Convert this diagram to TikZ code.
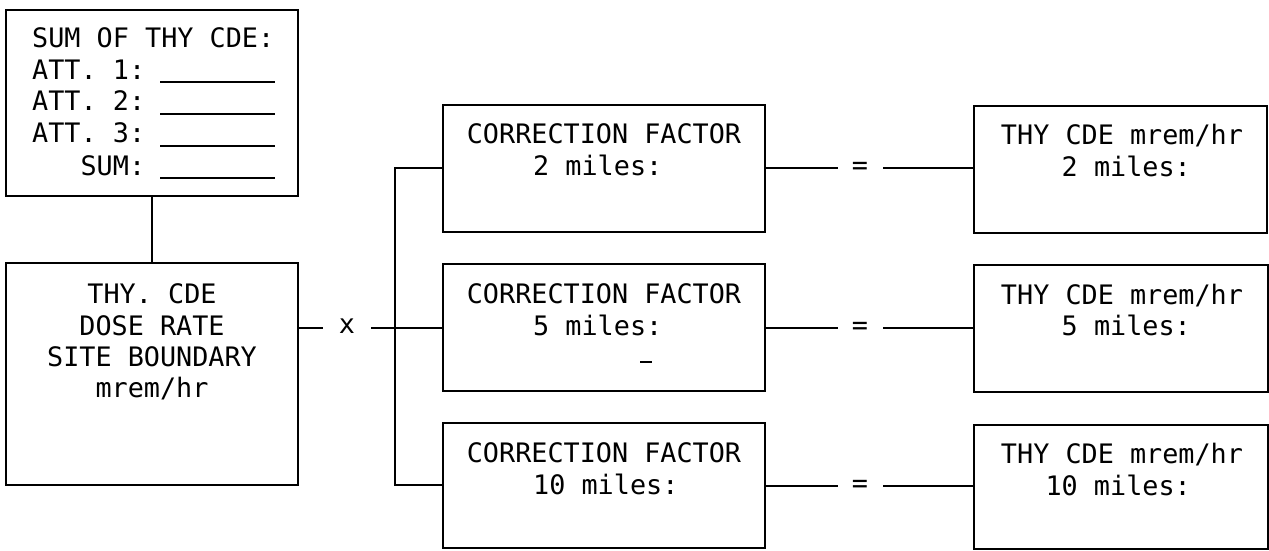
\documentclass[tikz,border=0pt]{standalone}
\usepackage{fontspec}
\setmonofont{DejaVu Sans Mono}
\begin{document}
\begin{tikzpicture}[x=1pt,y=-1pt,
  box/.style={draw, line width=2.6pt, rectangle, inner sep=0pt, outer sep=0pt},
  conn/.style={line width=2.4pt},
  blank/.style={line width=1.8pt},
  txt/.style={inner sep=0pt, font=\fontsize{26.8}{32}\selectfont\ttfamily},
]
\useasboundingbox (0,0) rectangle (1269,550);
% boxes
\node[box, minimum width=292pt, minimum height=186pt] (A) at (152,103) {};
\node[box, minimum width=292pt, minimum height=222pt] (B) at (152,374) {};
\node[box, minimum width=322pt, minimum height=127pt] (C1) at (604,168.5) {};
\node[box, minimum width=322pt, minimum height=127pt] (C2) at (604,327.5) {};
\node[box, minimum width=322pt, minimum height=125pt] (C3) at (604,485.5) {};
\node[box, minimum width=293pt, minimum height=127pt] (D1) at (1120.5,169.5) {};
\node[box, minimum width=294pt, minimum height=127pt] (D2) at (1121,328.5) {};
\node[box, minimum width=294pt, minimum height=124pt] (D3) at (1121,487) {};

% box A text
\node[txt, anchor=base west] (a0) at (32,47) {SUM OF THY CDE:};
\node[txt, anchor=base west] (a1) at (32,79) {ATT. 1:};
\node[txt, anchor=base west] (a2) at (32,110) {ATT. 2:};
\node[txt, anchor=base west] (a3) at (32,142) {ATT. 3:};
\node[txt, anchor=base east] (a4) at (a3.base east |- 0,175) {SUM:};
\coordinate (l1a) at (160,82);  \coordinate (l1b) at (275,82);
\coordinate (l2a) at (160,114); \coordinate (l2b) at (275,114);
\coordinate (l3a) at (160,146); \coordinate (l3b) at (275,146);
\coordinate (l4a) at (160,178); \coordinate (l4b) at (275,178);
\draw[blank] (l1a) -- (l1b);
\draw[blank] (l2a) -- (l2b);
\draw[blank] (l3a) -- (l3b);
\draw[blank] (l4a) -- (l4b);

% box B text
\node[txt, anchor=base] (b1) at (152,303) {THY. CDE};
\node[txt, anchor=base] (b2) at (152,335) {DOSE RATE};
\node[txt, anchor=base] (b3) at (152,366) {SITE BOUNDARY};
\node[txt, anchor=base] (b4) at (152,397) {mrem/hr};

% C texts
\node[txt, anchor=base] (c1t) at (604,143) {CORRECTION FACTOR};
\node[txt, anchor=base west] (c1m) at (533,175) {2 miles:};
\node[txt, anchor=base] (c2t) at (604,303) {CORRECTION FACTOR};
\node[txt, anchor=base west] (c2m) at (533,335) {5 miles:};
\node[txt, anchor=base] (c3t) at (604,462) {CORRECTION FACTOR};
\node[txt, anchor=base west] (c3m) at (533,494) {10 miles:};
\coordinate (dsa) at (640,362); \coordinate (dsb) at (652,362);
\draw[line width=1.8pt] (dsa) -- (dsb);

% D texts
\node[txt, anchor=base] (d1t) at (1122,144) {THY CDE mrem/hr};
\node[txt, anchor=base east] (d1m) at (1191,176) {2 miles:};
\node[txt, anchor=base] (d2t) at (1122,304) {THY CDE mrem/hr};
\node[txt, anchor=base east] (d2m) at (1191,335) {5 miles:};
\node[txt, anchor=base] (d3t) at (1122,463) {THY CDE mrem/hr};
\node[txt, anchor=base east] (d3m) at (1191,495) {10 miles:};

% A to B
\draw[conn] (A.south) -- (B.north);

% B -- x -- bus
\node[txt] (x) at (347,326) {x};
\coordinate (bx) at (B.east |- 0,328);
\coordinate (xl) at (323,328);
\coordinate (xr) at (371,328);
\coordinate (bus1) at (395,168);
\coordinate (bus3) at (395,485);
\draw[conn] (bx) -- (xl);
\draw[conn] (xr) -- (C2.west |- xr);
\draw[conn] (C1.west |- bus1) -- (bus1) -- (bus3) -- (C3.west |- bus3);

% right side connectors
\foreach \i/\y in {1/168, 2/328, 3/486} {
  \coordinate (el\i) at (838,\y);
  \coordinate (er\i) at (883,\y);
  \node[txt] (eq\i) at (860,\y) {=};
  \draw[conn] (C\i.east |- el\i) -- (el\i);
  \draw[conn] (er\i) -- (D\i.west |- er\i);
}
\end{tikzpicture}
\end{document}
